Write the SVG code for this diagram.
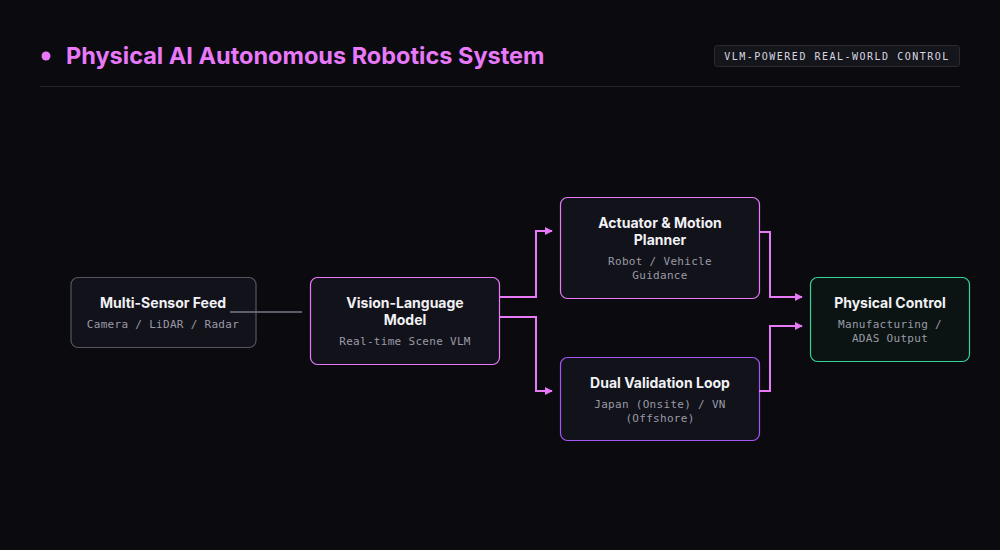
<svg xmlns="http://www.w3.org/2000/svg" width="1000" height="550" viewBox="0 0 1000 550">
<defs>
<style>
.t{font-family:Inter,"Liberation Sans",sans-serif;font-weight:700;font-size:14px;fill:#f1f1f5;text-anchor:middle}
.s{font-family:"DejaVu Sans Mono","Liberation Mono",monospace;font-size:11px;fill:#9a9aa8;text-anchor:middle;letter-spacing:0.3px}
.n{fill:#12121a;stroke-width:1.2}
.c{fill:none;stroke:#e879f9;stroke-width:2}
</style>
<marker id="a" viewBox="0 0 10 10" refX="9" refY="5" markerWidth="8" markerHeight="8" markerUnits="userSpaceOnUse" orient="auto"><path d="M0,0L10,5L0,10z" fill="#e879f9"/></marker>
</defs>
<rect width="1000" height="550" fill="#0a0a0f"/>
<circle cx="46" cy="56" r="4.5" fill="#e879f9"/>
<text x="66" y="64" font-family="Inter,'Liberation Sans',sans-serif" font-weight="700" font-size="23.5" fill="#e879f9">Physical AI Autonomous Robotics System</text>
<rect x="714.500" y="45.500" width="245" height="21" rx="3" fill="#15151c" stroke="#2a2a33"/>
<text x="837" y="60" font-family="'DejaVu Sans Mono','Liberation Mono',monospace" font-size="10" fill="#d8d8e0" text-anchor="middle" letter-spacing="1.5">VLM-POWERED REAL-WORLD CONTROL</text>
<line x1="40" y1="86.500" x2="960" y2="86.500" stroke="#262630"/>
<g id="sensor"><rect class="n" x="71" y="277.500" width="185" height="70" rx="7" stroke="#55555f"/>
<text class="t" x="163" y="308">Multi-Sensor Feed</text><text class="s" x="163" y="328">Camera / LiDAR / Radar</text></g>
<g id="vlm"><rect class="n" x="310.500" y="277.500" width="189" height="87" rx="7" stroke="#e879f9"/>
<text class="t" x="405" y="308">Vision-Language</text><text class="t" x="405" y="325">Model</text><text class="s" x="405" y="345">Real-time Scene VLM</text></g>
<g id="actuator"><rect class="n" x="560.500" y="197.500" width="199" height="101" rx="7" stroke="#e879f9"/>
<text class="t" x="660" y="228">Actuator &amp; Motion</text><text class="t" x="660" y="245">Planner</text><text class="s" x="660" y="265">Robot / Vehicle</text><text class="s" x="660" y="279">Guidance</text></g>
<g id="dual"><rect class="n" x="560.500" y="357.500" width="199" height="83" rx="7" stroke="#a855f7"/>
<text class="t" x="660" y="388">Dual Validation Loop</text><text class="s" x="660" y="408">Japan (Onsite) / VN</text><text class="s" x="660" y="422">(Offshore)</text></g>
<g id="physical"><rect x="810.500" y="277.500" width="159" height="84" rx="7" fill="#0b1412" stroke="#34d399" stroke-width="1.2"/>
<text class="t" x="890" y="308">Physical Control</text><text class="s" x="890" y="328">Manufacturing /</text><text class="s" x="890" y="342">ADAS Output</text></g>
<g id="connectors">
<line x1="230" y1="312" x2="302" y2="312" stroke="#7a7a88" stroke-width="1.5"/>
<path class="c" d="M499,297H536V231H552" marker-end="url(#a)"/>
<path class="c" d="M499,317H536V391H552" marker-end="url(#a)"/>
<path class="c" d="M759,232H770V297H802" marker-end="url(#a)"/>
<path class="c" d="M759,391H770V326H802" marker-end="url(#a)"/>
</g>
</svg>
